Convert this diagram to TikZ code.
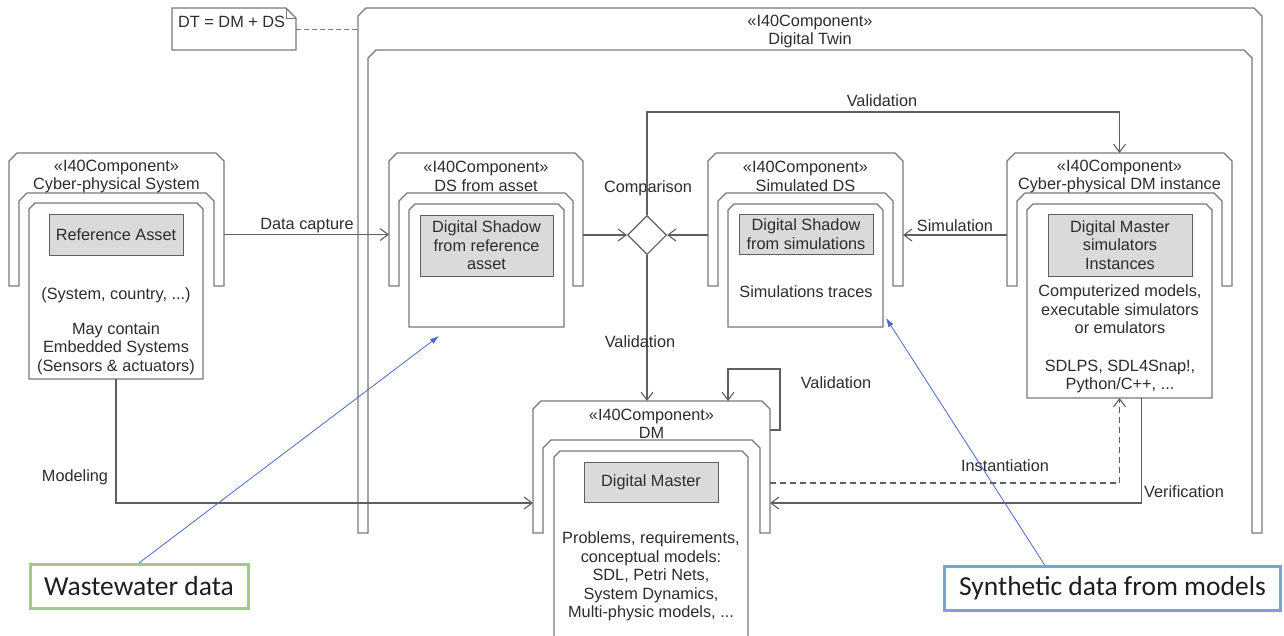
\documentclass[tikz,border=0pt]{standalone}
\usepackage{fontspec}
\setmainfont{Liberation Sans}
\newfontfamily\calloutfont{Carlito}
\usetikzlibrary{arrows.meta,shapes.geometric,fit,calc}

\definecolor{framegray}{RGB}{120,120,120}
\definecolor{linegray}{RGB}{95,95,95}
\definecolor{inkgray}{RGB}{45,45,45}
\definecolor{boxfill}{RGB}{218,218,218}
\definecolor{calloutgreen}{RGB}{160,205,130}
\definecolor{calloutblue}{RGB}{125,160,220}
\definecolor{pointerblue}{RGB}{75,105,200}

\tikzset{
  diag/.style={font=\fontsize{16.3pt}{18.4pt}\selectfont, text=inkgray},
  shell/.style={draw=framegray, line width=1.1pt, fill=white, line join=miter},
  graybox/.style={diag, draw=linegray, fill=boxfill, line width=1pt,
    inner sep=2pt, align=center},
  conn/.style={draw=linegray, line width=1.1pt,
    -{Straight Barb[length=8pt,width=12pt]}},
  pointer/.style={draw=pointerblue, line width=0.8pt,
    -{Latex[length=9pt,width=6pt]}},
  calloutbox/.style={font=\calloutfont\fontsize{27.5pt}{30pt}\selectfont,
    text={rgb,255:red,30;green,30;blue,30}, fill=white, line width=3pt,
    minimum height=44pt, inner sep=0pt},
  hook/.style={inner sep=0pt, outer sep=0pt}
}

% component shell: name, left, right, outer top, inner top, leg bottom
\newcommand\shellframe[6]{%
  \draw[shell] (#2,#6) -- (#2,#4+8) -- (#2+8,#4) -- (#3-8,#4) -- (#3,#4+8)
    -- (#3,#6) -- (#3-10,#6) -- (#3-10,#5+8) -- (#3-18,#5) -- (#2+18,#5)
    -- (#2+10,#5+8) -- (#2+10,#6) -- cycle;
  \node[hook, fit={(#2,#4) (#3,#6)}] (#1) {};
}
% content box with chamfered top corners: name, left, right, top, bottom
\newcommand\chambox[5]{%
  \node[hook, fit={(#2,#4) (#3,#5)}] (#1) {};
  \draw[shell] (#1.south west) -- ([yshift=-6pt]#1.north west)
    -- ([xshift=6pt]#1.north west) -- ([xshift=-6pt]#1.north east)
    -- ([yshift=-6pt]#1.north east) -- (#1.south east) -- cycle;
}

\begin{document}
\begin{tikzpicture}[x=1pt,y=-1pt]
\useasboundingbox (0,0) rectangle (1284,635);
\fill[white] (0,0) rectangle (1284,635);

% ---------- Digital Twin container ----------
\shellframe{dt}{358}{1262}{8}{50}{533}
\node[diag, align=center] (dttitle) at (810,31.5) {«I40Component»\\Digital Twin};

% ---------- note ----------
\node[hook, fit={(172,8) (296,50)}] (note) {};
\draw[shell] (note.north west) -- ([xshift=-10pt]note.north east)
  -- ([yshift=-10pt]note.north east) -- (note.south east)
  -- (note.south west) -- cycle;
\draw[draw=framegray, line width=1pt] ([xshift=-10pt]note.north east)
  -- ([xshift=-10pt,yshift=-10pt]note.north east) -- ([yshift=-10pt]note.north east);
\node[diag, anchor=west, inner sep=0pt] (notetext) at (178,22) {DT = DM + DS};
\draw[draw=framegray, line width=1pt, dash pattern=on 5pt off 3pt]
  (note.east) -- (dt.west |- note.east);

% ---------- Cyber-physical System ----------
\shellframe{cps}{9}{224}{153}{193}{286}
\node[diag, align=center] (cpstitle) at (116.5,176.5) {«I40Component»\\Cyber-physical System};
\chambox{cpsbox}{29}{203}{203}{379}
\node[graybox, minimum width=134pt, minimum height=41pt] (ra) at (116,234.5) {Reference Asset};
\node[diag, align=center] (cpstext) at (116,331)
  {(System, country, ...)\\[16.5pt]May contain\\Embedded Systems\\(Sensors \& actuators)};

% ---------- DS from asset ----------
\shellframe{dsa}{389}{583}{153}{193}{286}
\node[diag, align=center] (dsatitle) at (486,176.5) {«I40Component»\\DS from asset};
\chambox{dsabox}{409}{564}{204}{327}
\node[graybox, minimum width=133pt, minimum height=61pt] (dsag) at (486.5,245.5)
  {Digital Shadow\\from reference\\asset};

% ---------- Simulated DS ----------
\shellframe{sds}{708}{903}{153}{193}{286}
\node[diag, align=center] (sdstitle) at (805.5,176.5) {«I40Component»\\Simulated DS};
\chambox{sdsbox}{728}{883}{204}{327}
\node[graybox, minimum width=134pt, minimum height=40pt] (sdsg) at (806,234)
  {Digital Shadow\\from simulations};
\node[diag] (sdstext) at (806,292) {Simulations traces};

% ---------- Cyber-physical DM instance ----------
\shellframe{cpdm}{1007}{1232}{153}{193}{286}
\node[diag, align=center] (cpdmtitle) at (1119.5,176.5) {«I40Component»\\Cyber-physical DM instance};
\chambox{cpdmbox}{1027}{1212}{204}{398}
\node[graybox, minimum width=144pt, minimum height=62pt] (cpdmg) at (1120,245)
  {Digital Master\\simulators\\Instances};
\node[diag, align=center] (cpdmtext) at (1120,339)
  {Computerized models,\\executable simulators\\or emulators\\[19pt]SDLPS, SDL4Snap!,\\Python/C++, ...};

% ---------- DM ----------
\shellframe{dm}{533}{770}{401}{440}{533}
\node[diag, align=center] (dmtitle) at (651.5,424) {«I40Component»\\DM};
\chambox{dmbox}{554}{748}{451}{660}
\node[graybox, minimum width=134pt, minimum height=40pt] (dmg) at (651,482) {Digital Master};
\node[diag, align=center] (dmtext) at (651,576.5)
  {Problems, requirements,\\conceptual models:\\SDL, Petri Nets,\\System Dynamics,\\Multi-physic models, ...};

% ---------- comparison decision ----------
\node[diamond, aspect=1, draw=linegray, line width=1.1pt, fill=white,
  minimum size=39pt, inner sep=0pt] (cmp) at (647,235) {};
\node[diag] (cmplabel) at (648,188) {Comparison};

% ---------- routing points ----------
\coordinate (valtop) at (0,112);
\coordinate (busy) at (0,503);
\coordinate (insty) at (0,483);
\coordinate (loopne) at (780,369);
\coordinate (loopse) at (780,430);
\coordinate (loopnw) at (728,369);

% ---------- connectors ----------
\draw[conn] (cps.east |- ra.center) -- (dsa.west |- ra.center);
\node[diag] (lcapture) at (307,226) {Data capture};

\draw[conn] (dsa.east |- cmp) -- (cmp.west);
\draw[conn] (sds.west |- cmp) -- (cmp.east);
\draw[conn] (cpdm.west |- cmp) -- (sds.east |- cmp);
\node[diag] (lsim) at (955,226) {Simulation};

\draw[conn] (cmp.north) |- (cpdm.north |- valtop) -- (cpdm.north);
\node[diag] (lvaltop) at (882,101) {Validation};

\draw[conn] (cmp.south) -- (cmp.south |- dm.north);
\node[diag] (lvalmid) at (640,342) {Validation};

\draw[conn] (dm.east |- loopse) -- (loopse) -- (loopne) -- (loopnw) -- (loopnw |- dm.north);
\node[diag] (lvalloop) at (836,383) {Validation};

\draw[conn] (cpsbox.south) |- (dm.west |- busy);
\node[diag] (lmodel) at (75,477) {Modeling};

\draw[conn] ([xshift=22pt]cpdmbox.south) |- (dm.east |- busy);
\node[diag] (lverif) at (1184,492) {Verification};

\draw[conn, dash pattern=on 6pt off 4pt] (dm.east |- insty) -| (cpdmbox.south);
\node[diag] (linst) at (1005,466) {Instantiation};

% ---------- data callouts ----------
\node[calloutbox, draw=calloutgreen, minimum width=218pt] (ww) at (139,586.5) {Wastewater data};
\node[calloutbox, draw=calloutblue, minimum width=336pt] (syn) at (1112.5,588.5) {Synthetic data from models};
\coordinate (wwtip) at (439,336);
\coordinate (syntip) at (886,318);
\draw[pointer] (ww.north) -- (wwtip);
\draw[pointer] ($(syn.north west)!0.3!(syn.north east)$) -- (syntip);
\end{tikzpicture}
\end{document}
